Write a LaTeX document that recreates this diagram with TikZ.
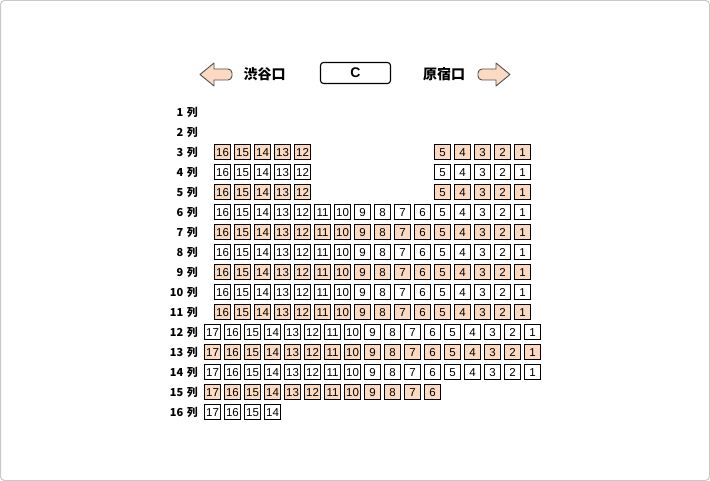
\documentclass[tikz,border=0pt]{standalone}
\usepackage{fontspec}
\setmainfont{Liberation Sans}
\newfontfamily\jpfont{Noto Sans CJK JP}
\definecolor{seatfill}{RGB}{252,218,194}
\definecolor{framegray}{RGB}{200,200,200}
\definecolor{arrowline}{RGB}{80,80,80}

\tikzset{
  seat/.style={draw, line width=1.1pt, fill=#1, minimum width=16.5pt, minimum height=15.5pt,
    inner sep=0pt, text height=8.2pt, text depth=0pt, font=\fontsize{11.5}{11.5}\selectfont},
  seat/.default=white,
  rowlabel/.style={anchor=east, inner sep=0pt, font=\jpfont\bfseries\fontsize{11}{11}\selectfont},
  gatelabel/.style={inner sep=0pt, font=\jpfont\bfseries\fontsize{14}{14}\selectfont},
  gatebox/.style={draw, line width=1.1pt, rounded corners=3pt, minimum width=70pt, minimum height=21pt,
    font=\bfseries\fontsize{14}{14}\selectfont},
  gatearrow/.style={draw=arrowline, fill=seatfill, line width=0.9pt, line join=round}
}

\begin{document}
\begin{tikzpicture}[x=1pt,y=-1pt]
  \useasboundingbox (0,0) rectangle (710,481);
  \draw[framegray, line width=1pt, rounded corners=4pt] (0.5,0.5) rectangle (709.5,480.5);

  %gates at the top
  \draw[gatearrow] (200,74.5) -- (214,63) -- (214,69) [rounded corners=4pt] -- (232,69) -- (232,80)
    [sharp corners] -- (214,80) -- (214,86) -- cycle;
  \node[gatelabel] (shibuya) at (264.5,74) {渋谷口};
  \node[gatebox] (gateC) at (355.5,73) {C};
  \node[gatelabel] (harajuku) at (444,74) {原宿口};
  \draw[gatearrow] (510,74.5) -- (496,63) -- (496,69) [rounded corners=4pt] -- (478,69) -- (478,80)
    [sharp corners] -- (496,80) -- (496,86) -- cycle;

  %row labels
  \foreach \r in {1,...,16}
    \node[rowlabel] (row\r) at (198,{112+20*(\r-1)}) {\r\hspace{3.5pt}列};

  %rows 3 to 11, sixteen seats wide
  \foreach \r in {3,...,11} {
    \ifnum\r<6 \def\seatlist{16,15,14,13,12,5,4,3,2,1}\else\def\seatlist{16,...,1}\fi
    \ifodd\r \def\seatcol{seatfill}\else\def\seatcol{white}\fi
    \foreach \n in \seatlist
      \node[seat=\seatcol] (s\r-\n) at ({522.5-20*(\n-1)},{112+20*(\r-1)}) {\n};
  }

  %rows 12 to 16, seventeen seats wide
  \foreach \r/\last in {12/1,13/1,14/1,15/6,16/14} {
    \ifodd\r \def\seatcol{seatfill}\else\def\seatcol{white}\fi
    \foreach \n in {17,...,\last}
      \node[seat=\seatcol] (s\r-\n) at ({532.5-20*(\n-1)},{112+20*(\r-1)}) {\n};
  }
\end{tikzpicture}
\end{document}
